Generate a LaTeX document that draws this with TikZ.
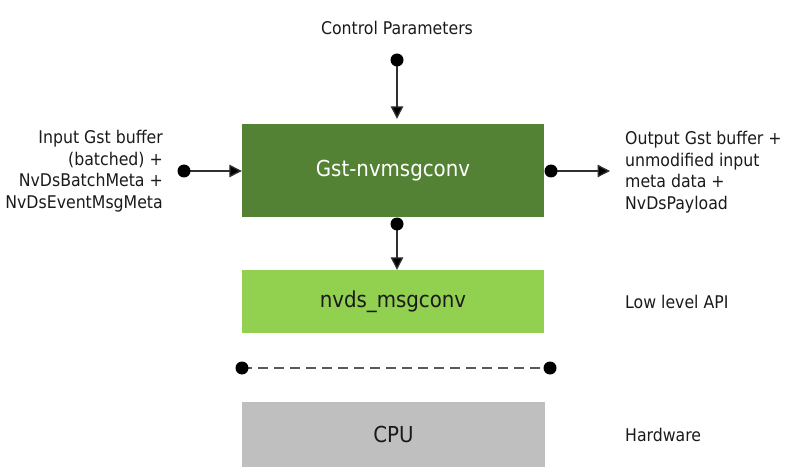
\documentclass[tikz,border=0pt]{standalone}
\usepackage{fontspec}
\setmainfont{DejaVu Sans Condensed}
\usetikzlibrary{arrows.meta,calc}
\definecolor{darkgreen}{HTML}{548235}
\definecolor{lightgreen}{HTML}{92D050}
\definecolor{cpugray}{HTML}{BFBFBF}
\definecolor{txt}{HTML}{1A1A1A}
\definecolor{wire}{HTML}{303030}
\tikzset{
  block/.style={draw=none, rectangle, inner sep=0pt, font=\fontsize{22}{26}\selectfont},
  label/.style={text=txt, inner sep=0pt, font=\fontsize{17.5}{21.5}\selectfont},
  arr/.style={draw=wire, line width=1.3pt, -{Triangle[length=12.5pt,width=12.5pt,fill=black]}},
  dot/.style={circle, fill=black, minimum size=13pt, inner sep=0pt},
  dashline/.style={draw=wire!80, line width=1.4pt, dash pattern=on 10pt off 6pt}
}
\begin{document}
\begin{tikzpicture}[x=1pt,y=-1pt]
\useasboundingbox (0,0) rectangle (785,468);
% blocks
\node[block, fill=darkgreen, text=white, minimum width=302pt, minimum height=93pt] (main) at (393,170.5) {Gst-nvmsgconv};
\node[block, fill=lightgreen, text=txt, minimum width=302pt, minimum height=63pt] (api) at (393,301.5) {nvds\_msgconv};
\node[block, fill=cpugray, text=txt, minimum width=303pt, minimum height=65pt] (cpu) at (393.5,434.5) {CPU};
% labels
\node[label] (ctrl) at (397,28) {Control Parameters};
\node[label, anchor=east, align=right] (in) at (163,171) {Input Gst buffer\\(batched) +\\NvDsBatchMeta +\\NvDsEventMsgMeta};
\node[label, anchor=west, align=left] (out) at (625,172) {Output Gst buffer +\\unmodified input\\meta data +\\NvDsPayload};
\node[label, anchor=west] (low) at (625,301.5) {Low level API};
\node[label, anchor=west] (hw) at (625,435) {Hardware};
% ports
\coordinate (ctrlport) at (397,60);
\coordinate (inport) at (184,171);
\coordinate (outport) at (551,171);
\coordinate (outend) at (610,171);
\coordinate (downport) at (397,224);
\coordinate (dashL) at (242,368);
\coordinate (dashR) at (550,368);
% connectors
\draw[arr, shorten >=5pt] (ctrlport) -- (ctrlport |- main.north);
\draw[arr] (inport) -- (inport -| main.west);
\draw[arr] (outport) -- (outend);
\draw[arr] (downport) -- (downport |- api.north);
\draw[dashline] (dashL) -- (dashR);
% dots
\foreach \p in {ctrlport,inport,outport,downport,dashL,dashR}
  \node[dot] at (\p) {};
\end{tikzpicture}
\end{document}
